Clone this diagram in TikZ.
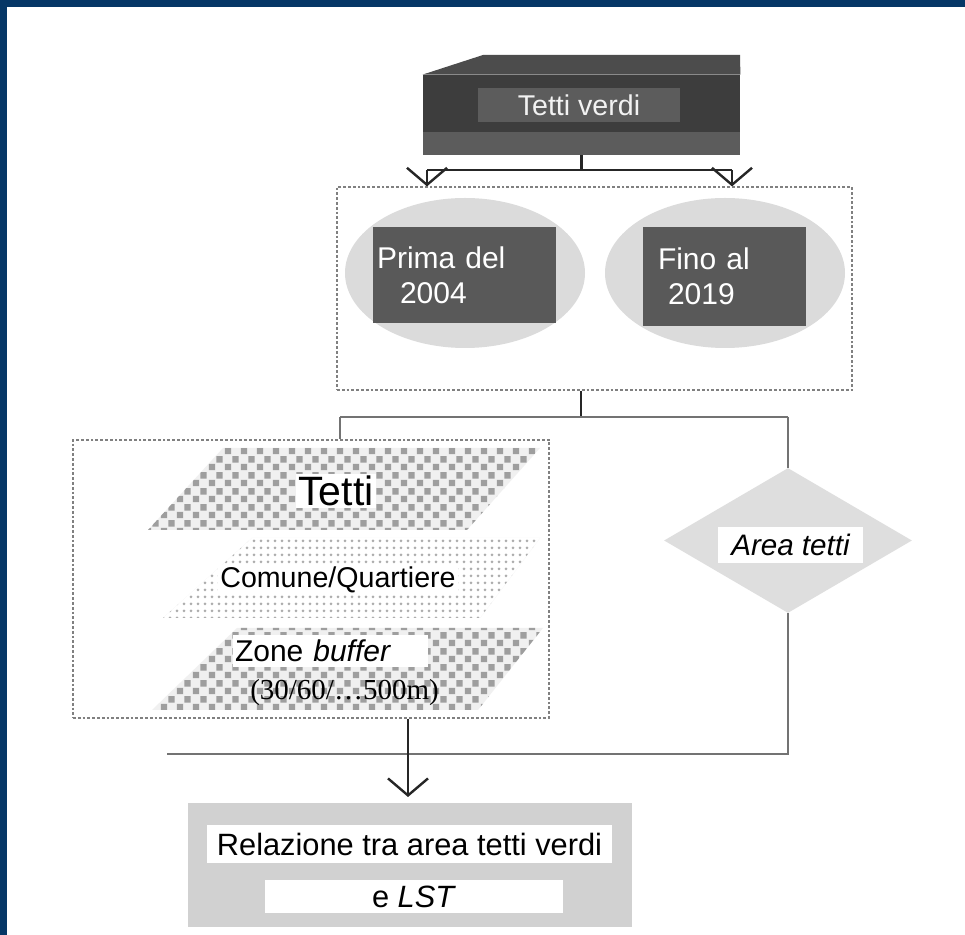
\documentclass[tikz,border=0pt]{standalone}
\usepackage{fontspec}
\setmainfont{Liberation Sans}
\newfontfamily\tempi{Liberation Serif}
\usetikzlibrary{shapes.geometric,arrows.meta,patterns,calc}
\definecolor{cornice}{RGB}{6,55,102}
\pgfdeclarepatternformonly{scacchi}{\pgfqpoint{0pt}{0pt}}{\pgfqpoint{8pt}{8pt}}{\pgfqpoint{8pt}{8pt}}{%
  \pgfpathrectangle{\pgfqpoint{0.4pt}{0.4pt}}{\pgfqpoint{3.4pt}{3.4pt}}%
  \pgfpathrectangle{\pgfqpoint{4.4pt}{4.4pt}}{\pgfqpoint{3.4pt}{3.4pt}}%
  \pgfusepath{fill}}
\pgfdeclarepatternformonly{puntini}{\pgfqpoint{-1pt}{-1pt}}{\pgfqpoint{4.5pt}{4.5pt}}{\pgfqpoint{3.5pt}{3.5pt}}{%
  \pgfpathcircle{\pgfqpoint{1pt}{1pt}}{0.75pt}\pgfusepath{fill}}

\begin{document}
\begin{tikzpicture}[x=0.5pt,y=-0.5pt,font=\fontsize{15}{17.5}\selectfont,
  conn/.style={line width=1.2pt,black!85},
  linea/.style={line width=0.9pt,black!55},
  punta/.style={-{Straight Barb[length=8.5pt,width=20pt]}},
  tratto/.style={draw=black!50,line width=0.6pt,dash pattern=on 1.4pt off 1pt},
  scuro/.style={fill=black!65,text=white,align=left,inner ysep=0pt},
  strato/.style={preaction={fill=black!6},pattern=scacchi,pattern color=black!38}]
\useasboundingbox (0,0) rectangle (965,935);
\fill[white] (0,0) rectangle (965,935);
\fill[cornice] (0,0) rectangle (965,7);
\fill[cornice] (0,0) rectangle (7,935);

\node[fill=black!76,minimum width=158.5pt,minimum height=40pt] (testa) at (581.5,115) {};
\fill[black!70] (testa.north west) -- (483,55) -- (740,55) -- (testa.north east) -- cycle;
\fill[black!64] ($(testa.south west)+(0,-23)$) rectangle (testa.south east);
\node[fill=black!64,text=black!5,minimum width=101pt,minimum height=16pt,
  font=\fontsize{14.3}{17}\selectfont] (verdi) at (579,105) {Tetti verdi};

\node[tratto,minimum width=257.5pt,minimum height=101.5pt] (periodi) at (594.5,288.5) {};
\foreach \nome/\cx in {ovale1/465,ovale2/725}
  \node[ellipse,fill=black!14,minimum width=120pt,minimum height=75pt] (\nome) at (\cx,273) {};
\node[scuro,inner xsep=2pt,text width=87.5pt,minimum height=48pt] (prima) at (464.5,275)
  {Prima del\\\hspace*{11.5pt}2004};
\node[scuro,inner xsep=7.5pt,text width=66.5pt,minimum height=49.5pt] (fino) at (724.5,276.5)
  {Fino al\\\hspace*{5pt}2019};

\coordinate (ssx) at (427,170);
\coordinate (sdx) at (732,170);
\draw[conn] (testa.south) -- (testa.south |- ssx);
\draw[conn] (ssx) -- (sdx);
\draw[conn,punta] (ssx) -- (ssx |- periodi.north);
\draw[conn,punta] (sdx) -- (sdx |- periodi.north);

\node[tratto,minimum width=238pt,minimum height=139pt] (strati) at (311,579) {};
\path[strato] (223,448) -- (540,448) -- (467,530) -- (148,530) -- cycle;
\path[strato,pattern=puntini,pattern color=black!32,preaction={fill=white}]
  (252,538) -- (540,538) -- (480,618) -- (163,618) -- cycle;
\path[strato] (237,628) -- (543,628) -- (478,710) -- (152,710) -- cycle;
\node[fill=white,inner sep=1pt,font=\fontsize{20.5}{24}\selectfont] (tetti) at (336,491) {Tetti};
\node[fill=white,inner sep=1pt,font=\fontsize{14.3}{17}\selectfont] (comune) at (338,580) {Comune/Quartiere};
\node[fill=white,inner xsep=1pt,inner ysep=0pt,text width=95.5pt,minimum height=16pt,align=left]
  (zona) at (330.5,651) {Zone \textit{buffer}};
\node[font=\tempi\fontsize{14.5}{17}\selectfont,inner sep=0pt] (raggi) at (344.5,693) {(30/60/…500m)};

\node[diamond,fill=black!13,minimum width=124pt,minimum height=72.5pt,inner sep=0pt] (area) at (788,540.5) {};
\node[fill=white,minimum width=72.5pt,minimum height=18pt,inner sep=0pt,
  font=\fontsize{14.8}{17.5}\selectfont\itshape] (areatxt) at (790.5,545) {Area tetti};

\node[fill=black!18,minimum width=222pt,minimum height=62pt] (relazione) at (410,865) {};
\node[fill=white,minimum width=202.5pt,minimum height=19pt,inner sep=0pt,
  font=\fontsize{15.4}{18}\selectfont] (riga1) at (409.5,844) {Relazione tra area tetti verdi};
\node[fill=white,minimum width=149pt,minimum height=16.5pt,inner sep=0pt,
  font=\fontsize{15.4}{18}\selectfont] (riga2) at (414,896.5) {e \textit{LST}};

\coordinate (nodo) at (581,417);
\coordinate (msx) at (340,417);
\coordinate (mdx) at (788,417);
\coordinate (bdx) at (788,754);
\coordinate (bsx) at (167,754);
\coordinate (freccia) at (408,797);
\draw[conn] (nodo |- periodi.south) -- (nodo);
\draw[linea] (msx) -- (mdx);
\draw[linea] (msx) -- (msx |- strati.north);
\draw[linea] (mdx) -- (area.north);
\draw[linea] (area.south) -- (bdx) -- (bsx);
\draw[conn,punta] (freccia |- strati.south) -- (freccia);
\end{tikzpicture}
\end{document}
